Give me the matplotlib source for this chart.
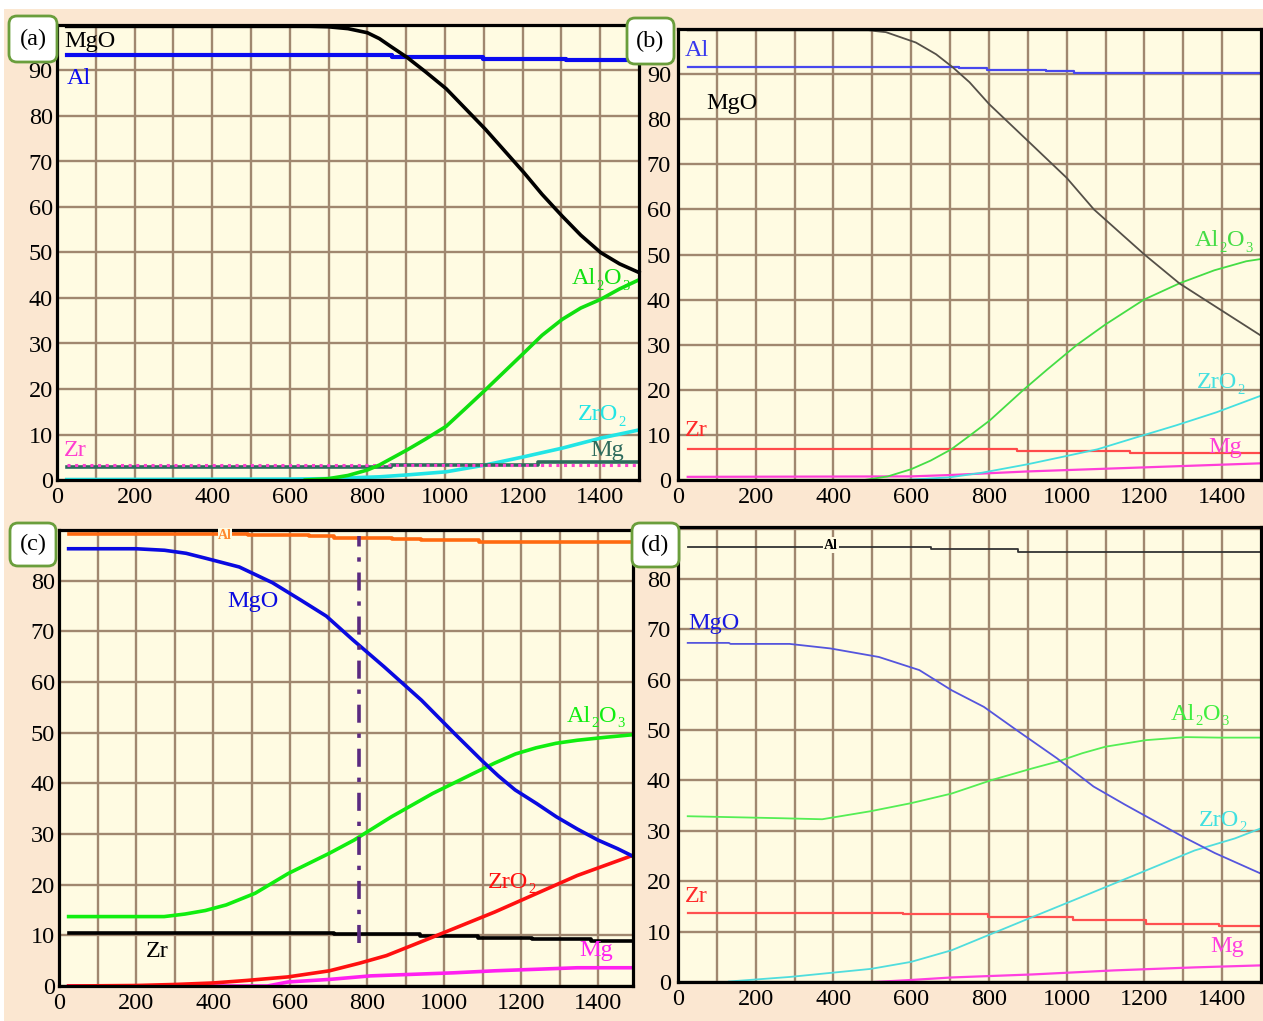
import numpy as np
import matplotlib
matplotlib.use("Agg")
import matplotlib.pyplot as plt
from matplotlib.patches import FancyBboxPatch, Rectangle
from matplotlib.text import Annotation

plt.rcParams['font.family'] = ['Liberation Serif', 'DejaVu Serif']

# ---------------- data (temperature, value) ----------------
x_ticks = [0, 200, 400, 600, 800, 1000, 1200, 1400]

# panel (a)
a_T_mgo = [25, 650, 700, 750, 800, 831, 860, 902, 950, 1003, 1104, 1203, 1250, 1302, 1350, 1401, 1450, 1500]
a_mgo = [99.7, 99.7, 99.6, 99.2, 98.3, 97.0, 95.3, 92.9, 89.7, 86.0, 77.1, 67.6, 62.8, 58.0, 53.8, 50.0, 47.5, 45.6]
a_T_al = [25, 864, 1097, 1313, 1500]
a_al = [93.3, 92.9, 92.6, 92.2, 92.2]
a_T_al2o3 = [640, 700, 750, 800, 831, 902, 950, 1003, 1050, 1104, 1203, 1250, 1302, 1350, 1401, 1450, 1500]
a_al2o3 = [0, 0.3, 1.0, 2.2, 3.3, 6.6, 9.0, 11.8, 15.5, 19.8, 27.9, 31.8, 35.3, 37.8, 39.7, 42.0, 44.0]
a_T_zro2 = [25, 600, 700, 831, 900, 1003, 1104, 1203, 1302, 1401, 1500]
a_zro2 = [0.1, 0.2, 0.3, 0.7, 1.1, 1.8, 3.3, 5.1, 7.0, 9.2, 11.0]
a_T_mg = [25, 860, 1240, 1500]
a_mg = [2.9, 3.4, 4.0, 4.0]
a_T_zr = [25, 1500]
a_zr = [3.4, 3.4]

# panel (b)
b_T_mgo = [25, 490, 535, 612, 664, 707, 750, 801, 900, 1000, 1070, 1200, 1290, 1355, 1500]
b_mgo = [99.7, 99.7, 99.3, 97.0, 94.4, 91.5, 88.2, 83.3, 75.2, 67.0, 60.0, 50.0, 43.6, 40.0, 32.0]
b_T_al = [25, 724, 796, 946, 1020, 1500]
b_al = [91.6, 91.3, 91.0, 90.6, 90.2, 90.2]
b_T_al2o3 = [479, 540, 600, 650, 703, 750, 802, 889, 950, 1027, 1100, 1199, 1290, 1380, 1462, 1500]
b_al2o3 = [0, 0.8, 2.4, 4.3, 6.8, 9.8, 13.2, 20.0, 24.5, 30.0, 34.5, 40.0, 43.6, 46.5, 48.5, 49.0]
b_T_zro2 = [579, 700, 781, 900, 982, 1079, 1185, 1281, 1385, 1500]
b_zro2 = [0, 0.6, 1.6, 3.5, 5.0, 6.8, 9.6, 12.1, 15.0, 18.7]
b_T_zr = [25, 871, 1162, 1500]
b_zr = [6.8, 6.4, 6.0, 6.0]
b_T_mg = [25, 600, 700, 800, 900, 1000, 1100, 1200, 1300, 1400, 1500]
b_mg = [0.7, 0.8, 1.1, 1.5, 1.9, 2.2, 2.5, 2.8, 3.1, 3.4, 3.7]

# panel (c)
c_T_al = [25, 490, 650, 715, 865, 940, 1090, 1490]
c_al = [89.3, 89.0, 88.8, 88.5, 88.2, 88.0, 87.6, 87.6]
c_T_mgo = [25, 200, 274, 330, 382, 468, 554, 629, 694, 763, 844, 941, 1027, 1099, 1140, 1184, 1240,
           1291, 1345, 1399, 1450, 1490]
c_mgo = [86.3, 86.3, 86.0, 85.4, 84.4, 82.7, 79.6, 76.1, 73.0, 68.3, 63.0, 56.4, 49.8, 44.4, 41.5, 38.7, 36.0,
         33.4, 31.0, 28.8, 27.1, 25.6]
c_T_al2o3 = [25, 273, 327, 380, 434, 509, 595, 702, 766, 863, 970, 1077, 1131, 1185, 1238, 1290, 1345, 1420, 1490]
c_al2o3 = [13.7, 13.7, 14.2, 14.9, 16.0, 18.3, 22.2, 26.2, 28.8, 33.4, 38.0, 42.0, 44.0, 45.8, 47.0, 47.9, 48.5, 49.1, 49.6]
c_T_zro2 = [25, 200, 300, 400, 488, 595, 702, 780, 850, 916, 1024, 1131, 1238, 1345, 1490]
c_zro2 = [0, 0.1, 0.3, 0.6, 1.1, 1.8, 3.0, 4.5, 6.0, 8.0, 11.3, 14.6, 18.2, 21.8, 25.8]
c_T_zr = [25, 713, 938, 1088, 1227, 1380, 1490]
c_zr = [10.5, 10.3, 9.9, 9.5, 9.2, 8.9, 8.9]
c_T_mg = [25, 541, 595, 702, 809, 916, 1024, 1131, 1238, 1345, 1490]
c_mg = [0, 0, 0.8, 1.3, 2.0, 2.3, 2.6, 3.0, 3.3, 3.6, 3.6]
c_T_mark = 780
c_mark_range = [8.5, 88.8]

# panel (d)
d_T_al = [25, 652, 876, 1500]
d_al = [86.4, 85.9, 85.4, 85.4]
d_T_mgo = [25, 131, 135, 287, 392, 517, 621, 704, 787, 871, 975, 1069, 1150, 1204, 1300, 1381, 1500]
d_mgo = [67.3, 67.3, 67.1, 67.1, 66.2, 64.5, 61.9, 57.9, 54.6, 50.0, 44.4, 38.8, 35.2, 32.9, 28.8, 25.6, 21.5]
d_T_al2o3 = [25, 267, 371, 496, 600, 704, 808, 912, 975, 1040, 1100, 1204, 1308, 1392, 1500]
d_al2o3 = [32.9, 32.5, 32.3, 33.9, 35.5, 37.4, 40.1, 42.4, 43.7, 45.4, 46.7, 48.0, 48.6, 48.5, 48.5]
d_T_zro2 = [131, 287, 496, 600, 704, 808, 912, 1017, 1121, 1225, 1329, 1433, 1500]
d_zro2 = [0.1, 1.0, 2.6, 4.0, 6.3, 9.6, 12.9, 16.2, 19.5, 22.8, 26.1, 28.5, 30.5]
d_T_zr = [25, 579, 798, 1017, 1204, 1392, 1500]
d_zr = [13.6, 13.4, 12.9, 12.3, 11.6, 11.1, 11.1]
d_T_mg = [506, 600, 704, 912, 1121, 1329, 1500]
d_mg = [0, 0.4, 0.9, 1.5, 2.3, 2.9, 3.3]

# ---------------- layout ----------------
W, H = 1263, 1021
BEIGE = '#FBE7D1'
PLOTBG = '#FFFBE2'
GRID = '#A0876F'

fig = plt.figure(figsize=(W / 100, H / 100), dpi=100, facecolor=BEIGE)


def rect(L, R, T, B):
    return [L / W, 1 - B / H, (R - L) / W, (B - T) / H]


def make_ax(L, R, T, B, xmax, ymax, ylab_max, ypad):
    ax = fig.add_axes(rect(L, R, T, B))
    ax.set_facecolor(PLOTBG)
    ax.set_xlim(0, xmax)
    ax.set_ylim(0, ymax)
    ax.set_xticks(x_ticks)
    ax.set_xticklabels([str(v) for v in x_ticks])
    ax.set_xticks(np.arange(100, 1500, 100), minor=True)
    ax.set_yticks(list(range(0, 91, 10)))
    ax.set_yticklabels([str(v) if v <= ylab_max else '' for v in range(0, 91, 10)])
    ax.tick_params(which='both', length=0, labelsize=17.5, colors='black')
    ax.tick_params(axis='x', pad=5)
    ax.tick_params(axis='y', pad=ypad)
    ax.grid(which='both', axis='x', color=GRID, lw=1.7)
    ax.grid(which='major', axis='y', color=GRID, lw=1.7)
    ax.set_axisbelow(True)
    for s in ax.spines.values():
        s.set_color('black')
        s.set_linewidth(2.3)
    return ax


ax_a = make_ax(57, 639, 25, 480, 1500, 100, 90, 3)
ax_b = make_ax(678, 1261, 29, 480, 1500, 100, 90, 5)
ax_c = make_ax(59, 633, 530, 986, 1490, 90, 80, 3)
ax_d = make_ax(678, 1261, 527, 982, 1500, 90.3, 80, 5)

TH = 2.6
TN = 1.3

# (a)
ax_a.plot(a_T_zro2, a_zro2, color='#22E5E5', lw=TH)
ax_a.plot(a_T_mg, a_mg, color='#2E6B5C', lw=TH, drawstyle='steps-post')
ax_a.plot(a_T_zr, a_zr, color='#FF3FD0', lw=2.2, ls=(0, (1, 1.5)))
ax_a.plot(a_T_al2o3, a_al2o3, color='#10E010', lw=TH)
ax_a.plot(a_T_al, a_al, color='#0A0AF0', lw=3.0, drawstyle='steps-post')
ax_a.plot(a_T_mgo, a_mgo, color='black', lw=TH, clip_on=False)

# (b)
ax_b.plot(b_T_mg, b_mg, color='#FF3FD8', lw=TN + 0.3)
ax_b.plot(b_T_zr, b_zr, color='#FF4A4A', lw=TN + 0.3, drawstyle='steps-post')
ax_b.plot(b_T_zro2, b_zro2, color='#45E0E0', lw=TN)
ax_b.plot(b_T_al2o3, b_al2o3, color='#45DD45', lw=TN)
ax_b.plot(b_T_al, b_al, color='#4848EE', lw=TN + 0.3, drawstyle='steps-post')
ax_b.plot(b_T_mgo, b_mgo, color='#555048', lw=TN, clip_on=False)

# (c)
ax_c.plot(c_T_mg, c_mg, color='#FF20F0', lw=TH)
ax_c.plot(c_T_zr, c_zr, color='black', lw=TH, drawstyle='steps-post')
ax_c.plot(c_T_zro2, c_zro2, color='#FF1010', lw=TH)
ax_c.plot(c_T_al2o3, c_al2o3, color='#10EE10', lw=TH)
ax_c.plot(c_T_mgo, c_mgo, color='#0A0AE0', lw=TH)
ax_c.plot(c_T_al, c_al, color='#FF6A10', lw=TH, drawstyle='steps-post')
ax_c.vlines(c_T_mark, c_mark_range[0], c_mark_range[1], colors='#5A2A80', lw=2.6,
            linestyles=(0, (5, 3, 1.2, 3)))

# (d)
ax_d.plot(d_T_mg, d_mg, color='#FF40E0', lw=TN + 0.3)
ax_d.plot(d_T_zr, d_zr, color='#FF5050', lw=TN + 0.3, drawstyle='steps-post')
ax_d.plot(d_T_zro2, d_zro2, color='#50DDDD', lw=TN)
ax_d.plot(d_T_al2o3, d_al2o3, color='#55EE55', lw=TN)
ax_d.plot(d_T_mgo, d_mgo, color='#5555DD', lw=TN)
ax_d.plot(d_T_al, d_al, color='#333333', lw=TN, drawstyle='steps-post')


# ---------------- curve labels ----------------
def label(x, y, s, color, size=17.5, **kw):
    fig.text(x / W, 1 - y / H, s, color=color, fontsize=size, ha='center', va='center', **kw)


def formula(x_left, y, parts, color, size=17.5):
    """Chemical formula drawn as pieces: (text, is_subscript)."""
    first = fig.text(x_left / W, 1 - y / H, parts[0][0], color=color, fontsize=size,
                     ha='left', va='center')
    prev = first
    for s, sub in parts[1:]:
        a = Annotation(s, xy=(1, 0), xycoords=(prev, first),
                       xytext=(0.3 if sub else 0, -2.5 if sub else 0), textcoords='offset points',
                       fontsize=size * 0.6 if sub else size, color=color,
                       ha='left', va='bottom', annotation_clip=False)
        fig.add_artist(a)
        prev = a


AL2O3 = [('Al', False), ('2', True), ('O', False), ('3', True)]
ZRO2 = [('ZrO', False), ('2', True)]

label(90, 41, 'MgO', 'black')
label(79, 78, 'Al', '#0A0AF0')
label(75, 450, 'Zr', '#FF3FD0')
formula(572, 279, AL2O3, '#10E010')
formula(578, 415, ZRO2, '#22E5E5')
label(607, 450, 'Mg', '#2E6B5C')

label(697, 50, 'Al', '#3838EE')
label(732, 104, 'MgO', 'black')
formula(1195, 241, AL2O3, '#45DD45')
formula(1197, 383, ZRO2, '#45E0E0')
label(696, 431, 'Zr', '#FF2A2A')
label(1225, 447, 'Mg', '#FF3FD8')

label(225, 535, 'Al', '#FF8A30', size=10, fontweight='bold',
      bbox=dict(fc=PLOTBG, ec='none', pad=0.3))
label(253, 602, 'MgO', '#0A0AE0')
formula(567, 716, AL2O3, '#10EE10')
formula(488, 882, ZRO2, '#FF1010')
label(157, 951, 'Zr', 'black')
label(596, 950, 'Mg', '#FF20F0')

label(831, 545, 'Al', 'black', size=10, fontweight='bold',
      bbox=dict(fc=PLOTBG, ec='none', pad=1.0))
label(714, 623, 'MgO', '#1A1AE0')
formula(1171, 714, AL2O3, '#40EE40')
formula(1199, 820, ZRO2, '#40E0E0')
label(696, 896, 'Zr', '#FF2A2A')
label(1227, 946, 'Mg', '#FF40E0')

# ---------------- panel tags ----------------
for tag, (x0, y0, x1, y1) in [('(a)', (9, 16, 57, 62)), ('(b)', (627, 18, 674, 64)),
                              ('(c)', (10, 523, 56, 566)), ('(d)', (632, 523, 679, 567))]:
    box = FancyBboxPatch((x0, H - y1), x1 - x0, y1 - y0,
                         boxstyle='round,pad=0,rounding_size=8',
                         fc='white', ec='#6A9E3C', lw=2.0, transform=None, zorder=10)
    fig.add_artist(box)
    fig.text((x0 + x1) / 2 / W, 1 - (y0 + y1) / 2 / H, tag, fontsize=17.5,
             ha='center', va='center', color='black', zorder=11)

# white strips at the top and left edge
fig.add_artist(Rectangle((0, H - 9), W, 9, transform=None, fc='white', ec='none', zorder=0))
fig.add_artist(Rectangle((0, 0), 4, H, transform=None, fc='white', ec='none', zorder=0))

fig.savefig('out.png', dpi=100, facecolor=BEIGE)
